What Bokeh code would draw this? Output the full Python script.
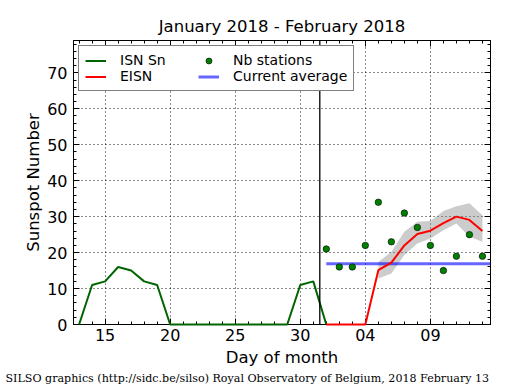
from bokeh.plotting import figure
from bokeh.models import (Range1d, FixedTicker, LinearAxis, Span, Legend,
                          LegendItem, Title)
from bokeh.embed import file_html
from bokeh.resources import INLINE

# x = day number counted from 31 Dec 2017 (Jan 13 -> 13, Feb 1 -> 32)
isn_days = list(range(13, 33))
isn_values = [0, 11, 12, 16, 15, 12, 11, 0, 0, 0, 0, 0, 0, 0, 0, 0, 0, 11, 12, 0]

eisn_days = list(range(32, 45))
eisn_values = [0, 0, 0, 0, 15.1, 17.2, 22.0, 25.2, 26.1, 28.2, 30.0, 29.1, 26.0]

band_days = list(range(36, 45))
band_lower = [12.8, 14.2, 19.3, 22.5, 23.9, 26.2, 28.1, 24.4, 23.0]
band_upper = [17.4, 20.2, 25.8, 28.6, 28.8, 31.6, 32.9, 33.7, 30.4]

station_days = list(range(32, 45))
station_values = [21, 16, 16, 22, 34, 23, 31, 27, 22, 15, 19, 25, 19]

avg_days = [32, 45]
avg_values = [16.9, 16.9]

month_split = [31.5]

xtick_values = [15, 20, 25, 30, 35, 40]
xtick_labels = ["15", "20", "25", "30", "04", "09"]
xminor_values = list(range(13, 45))
ytick_values = [0, 10, 20, 30, 40, 50, 60, 70]
yminor_values = list(range(0, 80, 2))

FONT = "DejaVu Sans"

p = figure(width=515, height=390, output_backend="svg", toolbar_location=None,
           x_range=Range1d(12.57, 44.62), y_range=Range1d(0, 79),
           min_border_left=73, min_border_right=25, min_border_top=40,
           min_border_bottom=66, title="January 2018 - February 2018")
p.background_fill_color = "white"
p.border_fill_color = "white"
p.outline_line_color = "black"
p.outline_line_width = 1

p.title.text_font = FONT
p.title.text_font_size = "16.5px"
p.title.text_font_style = "normal"
p.title.align = "center"
p.title.text_color = "black"

xticker = FixedTicker(ticks=xtick_values, minor_ticks=xminor_values)
yticker = FixedTicker(ticks=ytick_values, minor_ticks=yminor_values)


def style_axis(ax):
    ax.axis_line_color = "black"
    ax.axis_line_width = 1
    ax.major_tick_in = 6
    ax.major_tick_out = 0
    ax.minor_tick_in = 3
    ax.minor_tick_out = 0
    ax.major_tick_line_color = "black"
    ax.minor_tick_line_color = "black"
    ax.major_label_text_font = FONT
    ax.major_label_text_font_size = "16px"
    ax.major_label_text_color = "black"
    ax.axis_label_text_font = FONT
    ax.axis_label_text_font_size = "16.5px"
    ax.axis_label_text_font_style = "normal"
    ax.axis_label_text_color = "black"


xa = p.xaxis[0]
xa.ticker = xticker
xa.major_label_overrides = {v: l for v, l in zip(xtick_values, xtick_labels)}
xa.axis_label = "Day of month"
style_axis(xa)
xa.major_label_standoff = 4
xa.axis_label_standoff = 4

ya = p.yaxis[0]
ya.ticker = yticker
ya.axis_label = "Sunspot Number"
style_axis(ya)
ya.major_label_standoff = 6
ya.axis_label_standoff = 1

top = LinearAxis(ticker=xticker, major_label_overrides={v: "" for v in xtick_values})
style_axis(top)
p.add_layout(top, "above")
right = LinearAxis(ticker=yticker, major_label_overrides={v: "" for v in ytick_values})
style_axis(right)
p.add_layout(right, "right")

for g in (p.xgrid[0], p.ygrid[0]):
    g.grid_line_color = "black"
    g.grid_line_dash = "1 3"
    g.grid_line_width = 1
    g.grid_line_alpha = 0.9
p.xgrid[0].ticker = xticker
p.ygrid[0].ticker = yticker

p.varea(x=band_days, y1=band_lower, y2=band_upper, fill_color="gray", fill_alpha=0.4)
r_avg = p.line(avg_days, avg_values, line_color="blue", line_alpha=0.6, line_width=3)
r_isn = p.line(isn_days, isn_values, line_color="#006400", line_width=2, level="annotation")
r_eisn = p.line(eisn_days, eisn_values, line_color="red", line_width=2, level="annotation")
r_st = p.scatter(station_days, station_values, marker="circle", size=6.5,
                 fill_color="green", line_color="black", line_width=0.6)

p.add_layout(Span(location=month_split[0], dimension="height", line_color="black",
                  line_width=1.3))

legend = Legend(items=[LegendItem(label="ISN Sn", renderers=[r_isn]),
                       LegendItem(label="EISN", renderers=[r_eisn]),
                       LegendItem(label="Nb stations", renderers=[r_st]),
                       LegendItem(label="Current average", renderers=[r_avg])],
                location="top_left", ncols=2)
legend.label_text_font = FONT
legend.label_text_font_size = "14px"
legend.label_text_color = "black"
legend.border_line_color = "black"
legend.border_line_width = 1
legend.background_fill_color = "white"
legend.background_fill_alpha = 1
legend.padding = 6
legend.margin = 5
legend.spacing = 0
legend.glyph_width = 21
legend.glyph_height = 15
legend.label_height = 15
legend.label_standoff = 14
legend.label_width = 78
p.add_layout(legend)

footer = Title(text="SILSO graphics (http://sidc.be/silso) Royal Observatory of Belgium, 2018 February 13",
               text_font="DejaVu Serif", text_font_size="11.1px", text_font_style="normal",
               text_color="black", align="left", offset=-68, standoff=0)
p.add_layout(footer, "below")

open("out.html", "w").write(file_html(p, INLINE))
